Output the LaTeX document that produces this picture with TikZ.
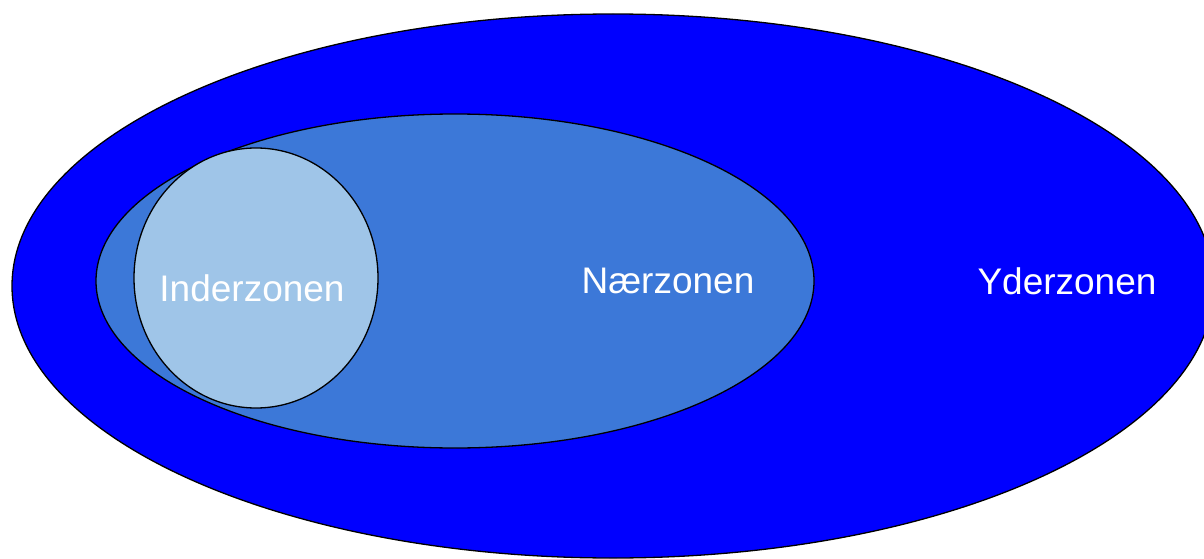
\documentclass[tikz,border=0pt]{standalone}
\usepackage{fontspec}
\setmainfont{Liberation Sans}
\definecolor{yder}{HTML}{0000FF}
\definecolor{naer}{HTML}{3C78D8}
\definecolor{inder}{HTML}{9FC5E8}
\begin{document}
\begin{tikzpicture}[x=1pt, y=-1pt,
		zone/.style={draw=black, line width=1.3pt},
		label/.style={text=white, font=\fontsize{37}{40}\selectfont}]
		% \draw [help lines, thin, step=100] (0,0) grid (1204,559);
		\useasboundingbox (0,0) rectangle (1204,559);

		\filldraw [zone, fill=yder] (613,286) ellipse [x radius=601, y radius=272];
		\filldraw [zone, fill=naer] (455,281) ellipse [x radius=359, y radius=167];
		\filldraw [zone, fill=inder] (256,278) ellipse [x radius=122, y radius=130];

		\node [label] (I) at (252,288) {Inderzonen};
		\node [label] (N) at (668,281) {Nærzonen};
		\node [label] (Y) at (1067,281) {Yderzonen};
	\end{tikzpicture}
\end{document}
